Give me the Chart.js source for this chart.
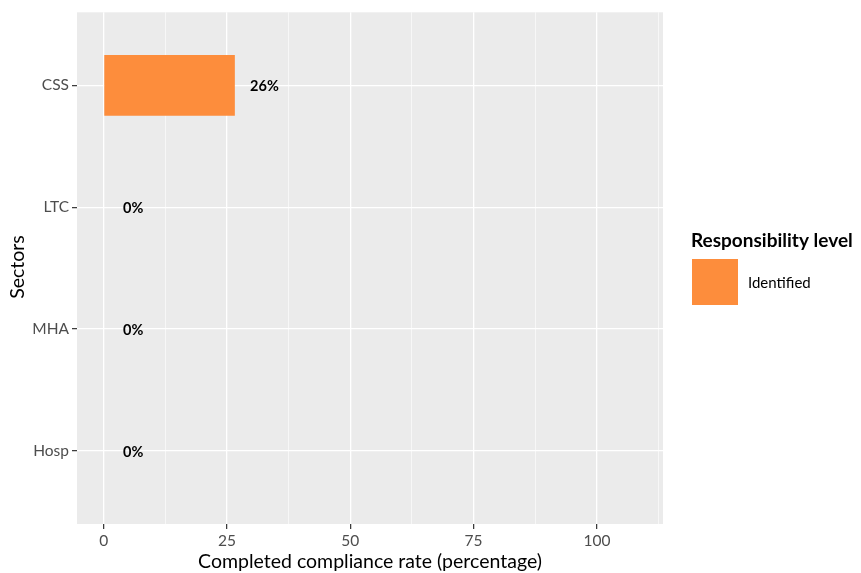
<!DOCTYPE html>
<html>
<head>
<meta charset="utf-8">
<script src="https://cdn.jsdelivr.net/npm/chart.js@4/dist/chart.umd.min.js"></script>
<style>
  html, body { margin: 0; padding: 0; background: #ffffff; }
  #wrap { width: 861px; height: 573px; position: relative; }
</style>
</head>
<body>
<div id="wrap"><canvas id="c" width="861" height="573"></canvas></div>
<script>
// ---- data ----
const sectors = ["CSS", "LTC", "MHA", "Hosp"];
const completedRate = [26.6, 0, 0, 0];
const rateLabels = ["26%", "0%", "0%", "0%"];
const xTickValues = [0, 12.5, 25, 37.5, 50, 62.5, 75, 87.5, 100, 112.5];
const seriesName = "Identified";
const legendTitle = "Responsibility level";
const xTitle = "Completed compliance rate (percentage)";
const yTitle = "Sectors";

const FONT = "Lato, 'Open Sans', sans-serif";
const BAR = "#FD8D3C";

const panelBg = {
  id: 'panelBg',
  beforeDraw(chart) {
    const { ctx, chartArea: a } = chart;
    ctx.save();
    ctx.fillStyle = '#EBEBEB';
    ctx.fillRect(a.left, a.top, a.right - a.left, a.bottom - a.top);
    ctx.restore();
  }
};

const extras = {
  id: 'extras',
  afterDatasetsDraw(chart) {
    const { ctx } = chart;
    const xs = chart.scales.x, ys = chart.scales.y;
    ctx.save();
    // value labels
    ctx.font = "bold 14.5px " + FONT;
    ctx.fillStyle = '#000000';
    ctx.textAlign = 'center';
    ctx.textBaseline = 'middle';
    completedRate.forEach((v, i) => {
      ctx.fillText(rateLabels[i], xs.getPixelForValue(v + 6), ys.getPixelForValue(i + 1) + 1);
    });
    // axis titles
    ctx.font = "19.5px " + FONT;
    ctx.fillText(xTitle, (chart.chartArea.left + chart.chartArea.right) / 2, 562);
    ctx.save();
    ctx.translate(18, 267);
    ctx.rotate(-Math.PI / 2);
    ctx.fillText(yTitle, 0, 0);
    ctx.restore();
    // legend
    ctx.textAlign = 'left';
    ctx.textBaseline = 'alphabetic';
    ctx.font = "bold 19px " + FONT;
    ctx.fillText(legendTitle, 691, 247);
    ctx.fillStyle = BAR;
    ctx.fillRect(692, 259, 46, 46);
    ctx.fillStyle = '#000000';
    ctx.font = "15px " + FONT;
    ctx.textBaseline = 'middle';
    ctx.fillText(seriesName, 748, 283);
    ctx.restore();
  }
};

new Chart(document.getElementById('c'), {
  type: 'bar',
  data: {
    datasets: [{
      label: seriesName,
      data: completedRate.map((v, i) => ({ x: v, y: i + 1 })),
      backgroundColor: BAR,
      borderWidth: 0,
      barPercentage: 0.5,
      categoryPercentage: 1.0
    }]
  },
  options: {
    indexAxis: 'y',
    responsive: false,
    animation: false,
    layout: { padding: { top: 10, right: 198, bottom: 0, left: 0 } },
    plugins: { legend: { display: false }, tooltip: { enabled: false } },
    scales: {
      x: {
        type: 'linear',
        min: -5.4,
        max: 113.4,
        afterBuildTicks(s) { s.ticks = xTickValues.map(v => ({ value: v })); },
        afterFit(s) { s.height = 49; },
        border: { display: false },
        grid: {
          color: '#FFFFFF',
          lineWidth: c => (c.tick && c.tick.value % 25 === 0) ? 1.3 : 0.6,
          tickColor: c => (c.tick && c.tick.value % 25 === 0) ? '#333333' : 'rgba(0,0,0,0)',
          tickLength: 5,
          tickWidth: 1.2
        },
        ticks: {
          autoSkip: false,
          maxRotation: 0,
          padding: 3,
          color: '#4D4D4D',
          font: { family: FONT, size: 15.5 },
          callback: v => (v % 25 === 0 ? String(v) : '')
        }
      },
      y: {
        type: 'linear',
        reverse: true,
        offset: false,
        min: 0.4,
        max: 4.6,
        afterBuildTicks(s) { s.ticks = sectors.map((_, i) => ({ value: i + 1 })); },
        afterFit(s) { s.width = 77; },
        border: { display: false },
        grid: {
          offset: false,
          color: '#FFFFFF',
          lineWidth: 1.3,
          tickColor: '#333333',
          tickLength: 5,
          tickWidth: 1.2
        },
        ticks: {
          autoSkip: false,
          padding: 3,
          color: '#4D4D4D',
          font: { family: FONT, size: 15.5 },
          callback: v => sectors[v - 1] || ''
        }
      }
    }
  },
  plugins: [panelBg, extras]
});
</script>
</body>
</html>
